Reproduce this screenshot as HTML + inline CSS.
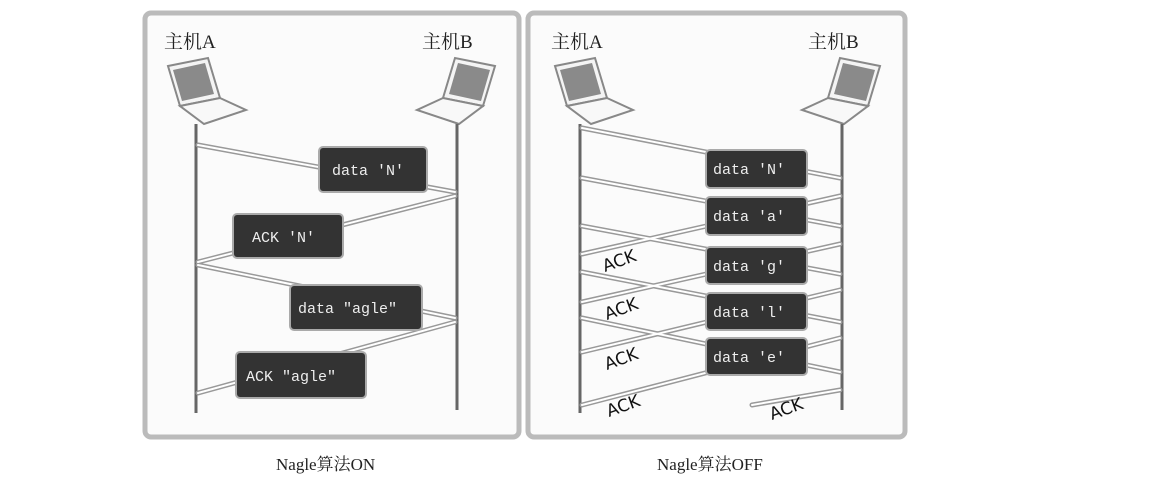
<!DOCTYPE html>
<html><head><meta charset="utf-8"><style>
html,body{margin:0;padding:0;background:#fff;width:1174px;height:486px;overflow:hidden}
svg{display:block}
.cj{font-family:"Liberation Serif","Noto Serif CJK SC",serif;font-size:19px;fill:#222}
.mono{font-family:"Liberation Mono","DejaVu Sans Mono",monospace;font-size:15px;fill:#eee}
.ack{font-family:"DejaVu Sans","Liberation Sans",sans-serif;font-size:17px;fill:#111}
</style></head><body>
<svg width="1174" height="486" viewBox="0 0 1174 486" xmlns="http://www.w3.org/2000/svg">
<defs>
<g id="laptop">
<polygon points="0,8 40,0 52,40 12,48" fill="#f4f4f4" stroke="#888" stroke-width="2"/>
<polygon points="5,12 37,5 46,36 14,43" fill="#8a8a8a"/>
<polygon points="12,48 52,40 78,52 36,66" fill="#f8f8f8" stroke="#888" stroke-width="2"/>
</g>
</defs>
<rect x="145" y="13" width="374" height="424" rx="6" fill="#fbfbfb" stroke="#bbb" stroke-width="5"/>
<rect x="528" y="13" width="377" height="424" rx="6" fill="#fbfbfb" stroke="#bbb" stroke-width="5"/>
<text class="cj" x="164" y="48">主机A</text>
<text class="cj" x="422" y="48">主机B</text>
<text class="cj" x="551" y="48">主机A</text>
<text class="cj" x="808" y="48">主机B</text>
<use href="#laptop" x="168" y="58"/>
<use href="#laptop" transform="translate(495,58) scale(-1,1)"/>
<use href="#laptop" x="555" y="58"/>
<use href="#laptop" transform="translate(880,58) scale(-1,1)"/>
<g stroke="#666" stroke-width="3">
<line x1="196" y1="124" x2="196" y2="413"/><line x1="457" y1="124" x2="457" y2="410"/>
<line x1="580" y1="124" x2="580" y2="413"/><line x1="842" y1="124" x2="842" y2="410"/>
</g>
<g fill="none" stroke-linecap="round">
<g stroke="#999" stroke-width="5">
<path d="M198,145 L455,192 M198,262 L455,196 M198,265 L455,318 M198,393 L455,322"/>
<path d="M582,128 L840,178 M582,178 L840,226 M582,226 L840,274 M582,272 L840,322 M582,318 L840,372"/>
<path d="M840,196 L582,254 M840,244 L582,302 M840,290 L582,352 M840,338 L582,405 M840,390 L752,405"/>
</g>
<g stroke="#fff" stroke-width="2">
<path d="M198,145 L455,192 M198,262 L455,196 M198,265 L455,318 M198,393 L455,322"/>
<path d="M582,128 L840,178 M582,178 L840,226 M582,226 L840,274 M582,272 L840,322 M582,318 L840,372"/>
<path d="M840,196 L582,254 M840,244 L582,302 M840,290 L582,352 M840,338 L582,405 M840,390 L752,405"/>
</g>
</g>
<g fill="#333" stroke="#aaa" stroke-width="2">
<rect x="319" y="147" width="108" height="45" rx="4"/>
<rect x="233" y="214" width="110" height="44" rx="4"/>
<rect x="290" y="285" width="132" height="45" rx="4"/>
<rect x="236" y="352" width="130" height="46" rx="4"/>
<rect x="706" y="150" width="101" height="38" rx="4"/>
<rect x="706" y="197" width="101" height="38" rx="4"/>
<rect x="706" y="247" width="101" height="37" rx="4"/>
<rect x="706" y="293" width="101" height="37" rx="4"/>
<rect x="706" y="338" width="101" height="37" rx="4"/>
</g>
<text class="mono" x="332" y="175">data 'N'</text>
<text class="mono" x="252" y="242">ACK 'N'</text>
<text class="mono" x="298" y="313">data "agle"</text>
<text class="mono" x="246" y="381">ACK "agle"</text>
<text class="mono" x="713" y="174">data 'N'</text>
<text class="mono" x="713" y="221">data 'a'</text>
<text class="mono" x="713" y="271">data 'g'</text>
<text class="mono" x="713" y="317">data 'l'</text>
<text class="mono" x="713" y="362">data 'e'</text>
<text class="ack" transform="translate(605,272) rotate(-20)">ACK</text>
<text class="ack" transform="translate(607,320) rotate(-20)">ACK</text>
<text class="ack" transform="translate(607,370) rotate(-20)">ACK</text>
<text class="ack" transform="translate(609,417) rotate(-20)">ACK</text>
<text class="ack" transform="translate(772,420) rotate(-20)">ACK</text>
<text class="cj" x="276" y="470" style="font-size:17px">Nagle算法ON</text>
<text class="cj" x="657" y="470" style="font-size:17px">Nagle算法OFF</text>
</svg>
</body></html>
